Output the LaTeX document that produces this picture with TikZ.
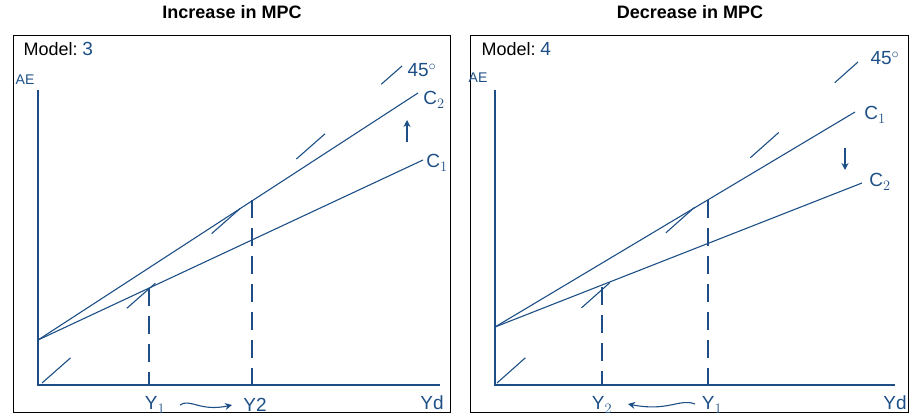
\documentclass[tikz,border=0pt]{standalone}
\usepackage{fontspec}
\setmainfont{Liberation Sans}
\usetikzlibrary{arrows.meta}
\begin{document}
\begin{tikzpicture}[x=1pt,y=-1pt,
  ink/.style={draw=pen,line width=1.1pt},
  dsh/.style={ink,dash pattern=on 38pt off 75pt},
  vd/.style={ink,dash pattern=on 18pt off 10pt},
  arr/.style={ink,-{Stealth[length=7pt,width=7pt]}},
  hand/.style={text=pen,font=\fontsize{19}{20}\selectfont},
  ttl/.style={font=\bfseries\fontsize{18}{20}\selectfont}]
\definecolor{pen}{HTML}{1D4F86}
\useasboundingbox (0,0) rectangle (916,420);
% ---------- left ----------
\node[ttl] (t1) at (232,12) {Increase in MPC};
\draw[line width=0.8pt] (13,35) rectangle (450,412);
\node[anchor=west,font=\fontsize{18}{20}\selectfont] (m1) at (20,49) {Model:};
\node[hand,anchor=west,inner sep=1pt] (n1) at (m1.east) {3};
\node[hand,font=\fontsize{14}{14}\selectfont] (ae1) at (25,80) {AE};
\coordinate (o1) at (38,385);
\draw[ink] (38,90) -- (o1) -- (440,385);
\coordinate (a1) at (38,340);
\draw[ink] (a1) -- (418,93);
\draw[ink] (a1) -- (423,160);
\draw[dsh] (42,383) -- (402,66);
\draw[vd] (149,288) -- (149,385);
\draw[vd] (252,200) -- (252,385);
\node[hand] (y1a) at (155,405) {Y$_1$};
\node[hand] (y2a) at (255,405) {Y2};
\draw[arr] (180,405) .. controls (190,398) and (200,412) .. (232,405);
\node[hand] (yda) at (432,403) {Yd};
\draw[arr] (407,142) -- (407,120);
\node[hand] (c2a) at (434,100) {C$_2$};
\node[hand] (c1a) at (437,163) {C$_1$};
\node[hand] (d1) at (422,70) {45$^\circ$};
% ---------- right ----------
\node[ttl] (t2) at (690,12) {Decrease in MPC};
\draw[line width=0.8pt] (470,35) rectangle (908,412);
\node[anchor=west,font=\fontsize{18}{20}\selectfont] (m2) at (478,49) {Model:};
\node[hand,anchor=west,inner sep=1pt] (n2) at (m2.east) {4};
\node[hand,font=\fontsize{14}{14}\selectfont] (ae2) at (478,78) {AE};
\coordinate (o2) at (495,385);
\draw[ink] (495,90) -- (o2) -- (895,385);
\coordinate (a2) at (495,327);
\draw[ink] (a2) -- (855,112);
\draw[ink] (a2) -- (862,183);
\draw[dsh] (497,383) -- (858,62);
\draw[vd] (602,287) -- (602,385);
\draw[vd] (708,200) -- (708,385);
\node[hand] (y2b) at (602,405) {Y$_2$};
\node[hand] (y1b) at (712,405) {Y$_1$};
\draw[arr] (695,404) .. controls (680,398) and (668,412) .. (628,404);
\node[hand] (ydb) at (895,403) {Yd};
\draw[arr] (845,148) -- (845,170);
\node[hand] (c1b) at (875,115) {C$_1$};
\node[hand] (c2b) at (880,182) {C$_2$};
\node[hand] (d2) at (885,58) {45$^\circ$};
\end{tikzpicture}
\end{document}
